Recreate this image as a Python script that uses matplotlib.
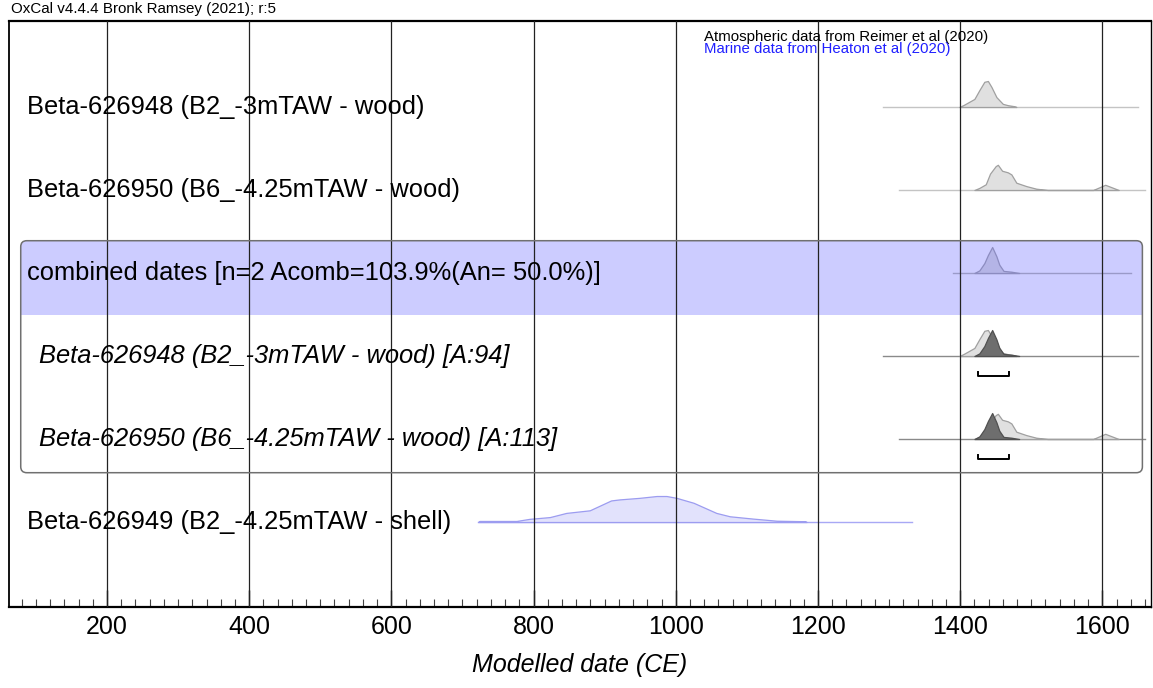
import matplotlib.pyplot as plt
from matplotlib.patches import FancyBboxPatch, Rectangle
from matplotlib.ticker import MultipleLocator
import numpy as np

plt.rcParams['font.family'] = ['Liberation Sans', 'DejaVu Sans']

# Rótulos de cada linha (de cima para baixo)
labels = ['Beta-626948 (B2_-3mTAW - wood)',
          'Beta-626950 (B6_-4.25mTAW - wood)',
          'combined dates [n=2 Acomb=103.9%(An= 50.0%)]',
          'Beta-626948 (B2_-3mTAW - wood) [A:94]',
          'Beta-626950 (B6_-4.25mTAW - wood) [A:113]',
          'Beta-626949 (B2_-4.25mTAW - shell)']
italic = [False, False, False, True, True, False]
indent = [False, False, False, True, True, False]

# Distribuições (ano CE, probabilidade relativa)
b948_years = [1399, 1405, 1420, 1427, 1434, 1439, 1444, 1451, 1460, 1467, 1476, 1479]
b948_prob = [0, 0.08, 0.31, 0.65, 0.97, 1.0, 0.77, 0.38, 0.12, 0.07, 0.03, 0]

b950_years = [1420, 1427, 1436, 1442, 1450, 1453, 1459, 1467, 1472, 1479, 1493, 1507, 1523,
              1587, 1604, 1623]
b950_prob = [0, 0.08, 0.22, 0.63, 0.92, 0.97, 0.74, 0.68, 0.6, 0.28, 0.15, 0.05, 0,
             0, 0.2, 0]

comb_years = [1420, 1427, 1434, 1439, 1445, 1451, 1455, 1461, 1472, 1483]
comb_prob = [0, 0.1, 0.38, 0.69, 1.0, 0.64, 0.32, 0.08, 0.05, 0]

shell_years = [722, 724, 776, 794, 823, 846, 879, 909, 921, 949, 973, 987, 1001, 1025,
               1057, 1076, 1109, 1142, 1182, 1184]
shell_prob = [0, 0.04, 0.04, 0.12, 0.19, 0.35, 0.45, 0.83, 0.87, 0.93, 1.0, 1.0, 0.93, 0.74,
              0.35, 0.22, 0.13, 0.05, 0.03, 0]

# Intervalos das linhas de base
b948_range = [1291, 1650]
b950_range = [1314, 1660]
comb_range = [1390, 1640]
shell_range = [722, 1332]

# Intervalo 68.2% (colchetes)
hpd_range = [1425, 1468]

H = 0.313  # altura máxima de um pico (em linhas)
XMIN, XMAX = 62.2, 1668.4

fig = plt.figure(figsize=(11.53, 6.88), dpi=100)
ax = fig.add_axes([9 / 1153, 1 - 607 / 688, 1142 / 1153, 586 / 688])
ax.set_xlim(XMIN, XMAX)
ax.set_ylim(6.024, -1.036)

# Caixa da combinação
sx = 1 / 0.7112
sy = 1 / 83
asp = sy / sx
box_x0, box_x1 = 78.7, 1656.3
box_y0, box_y1 = 1.611, 4.406
band_y1 = 2.506
band = FancyBboxPatch((box_x0, box_y0), box_x1 - box_x0, band_y1 - box_y0,
                      boxstyle='round,pad=0,rounding_size=8.5', mutation_aspect=asp,
                      facecolor='#ccccff', edgecolor='none', zorder=1)
ax.add_patch(band)
ax.add_patch(Rectangle((box_x0, 2.1), box_x1 - box_x0, band_y1 - 2.1,
                       facecolor='#ccccff', edgecolor='none', zorder=1))
ax.add_patch(FancyBboxPatch((box_x0, box_y0), box_x1 - box_x0, box_y1 - box_y0,
                            boxstyle='round,pad=0,rounding_size=8.5', mutation_aspect=asp,
                            facecolor='none', edgecolor='#707070', lw=1.1, zorder=5))


def dist(row, years, prob, fc, ec, z=2):
    ax.fill_between(years, row, row - np.array(prob) * H, facecolor=fc, edgecolor=ec,
                    lw=0.9, zorder=z)


def base(row, rng, color='#c4c4c4'):
    ax.plot(rng, [row, row], color=color, lw=1, zorder=1.5)


def bracket(row, rng):
    h = 4 * sy
    ax.plot([rng[0], rng[0], rng[1], rng[1]], [row - h, row, row, row - h],
            color='black', lw=1.4, zorder=4)


# Linha 0 e 1: datas não modeladas
base(0, b948_range)
dist(0, b948_years, b948_prob, '#e0e0e0', '#a0a0a0')
base(1, b950_range)
dist(1, b950_years, b950_prob, '#e0e0e0', '#a0a0a0')

# Linha 2: combinação
base(2, comb_range, color='#9a9ac8')
dist(2, comb_years, comb_prob, '#b4b4e6', '#8c8cc0')

# Linhas 3 e 4: posteriores
base(3, b948_range, color='#8a8a8a')
dist(3, b948_years, b948_prob, '#e0e0e0', '#a0a0a0')
dist(3, comb_years, comb_prob, '#6e6e6e', '#505050', z=2.5)
bracket(3.237, hpd_range)
base(4, b950_range, color='#8a8a8a')
dist(4, b950_years, b950_prob, '#e0e0e0', '#a0a0a0')
dist(4, comb_years, comb_prob, '#6e6e6e', '#505050', z=2.5)
bracket(4.241, hpd_range)

# Linha 5: concha (curva marinha)
base(5, shell_range, color='#a8a8f5')
dist(5, shell_years, shell_prob, '#e2e2fc', '#9c9cf0')

# Rótulos
for i, lab in enumerate(labels):
    x = 105 if indent[i] else 87.5
    ax.text(x, i + 0.09, lab, fontsize=18.4, style='italic' if italic[i] else 'normal',
            va='baseline', ha='left', zorder=6)

# Grade vertical
for g in range(200, 1700, 200):
    ax.axvline(g, color='#222222', lw=0.9, zorder=3)

ax.xaxis.set_major_locator(MultipleLocator(200))
ax.xaxis.set_minor_locator(MultipleLocator(20))
ax.set_yticks([])
ax.tick_params(axis='x', which='major', direction='in', length=12, width=1,
               labelsize=18, pad=5.5)
ax.tick_params(axis='x', which='minor', direction='in', length=6, width=0.8,
               color='#444444')
for s in ['top', 'bottom']:
    ax.spines[s].set_linewidth(1.6)
ax.spines['left'].set_linewidth(1.3)
ax.spines['right'].set_linewidth(1.0)
ax.set_xlabel('Modelled date (CE)', fontsize=18, style='italic', labelpad=10.5)

fig.text(10.7 / 1153, 1 - 13.5 / 688, 'OxCal v4.4.4 Bronk Ramsey (2021); r:5',
         fontsize=10.9, va='baseline')
fig.text(704 / 1153, 1 - 40.7 / 688, 'Atmospheric data from Reimer et al (2020)',
         fontsize=10.8, va='baseline')
fig.text(704 / 1153, 1 - 53.5 / 688, 'Marine data from Heaton et al (2020)',
         fontsize=10.8, va='baseline', color='#2020ff')

fig.savefig('out.png', dpi=100)
